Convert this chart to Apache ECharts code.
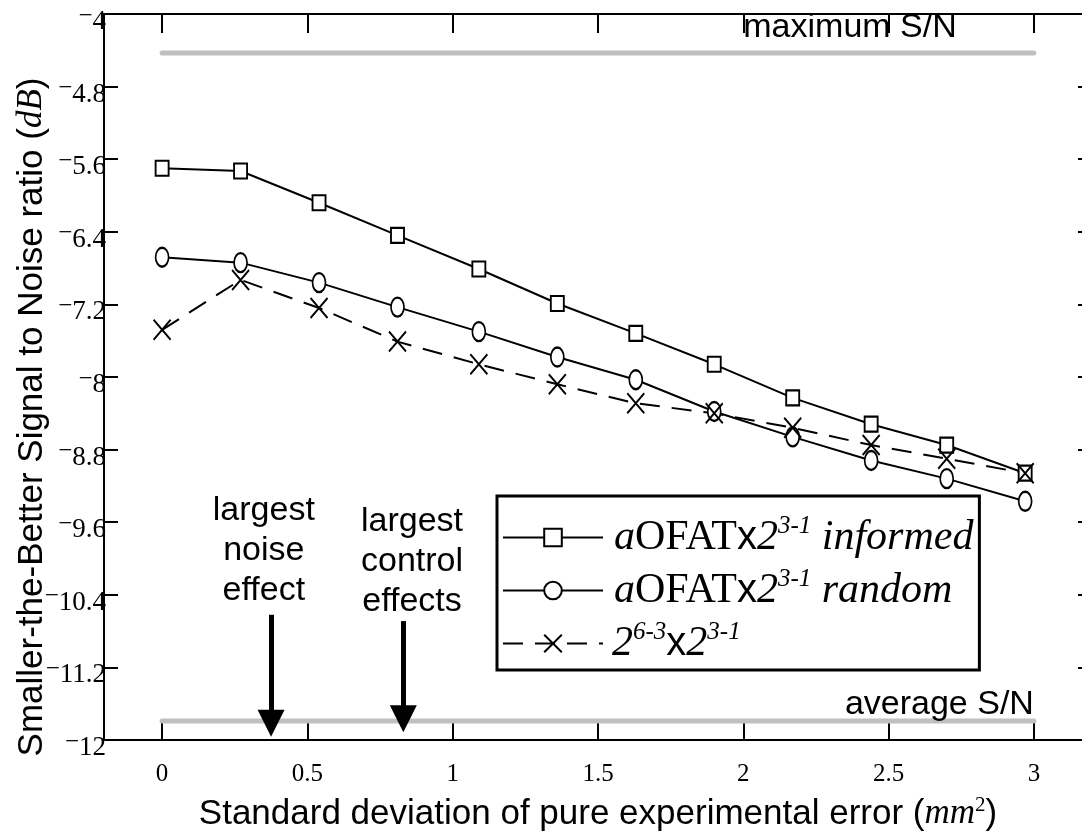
<!DOCTYPE html>
<html>
<head>
<meta charset="utf-8">
<style>
  html, body { margin: 0; padding: 0; background: #fff; }
  #chart { width: 1082px; height: 833px; }
</style>
<script src="https://cdn.jsdelivr.net/npm/echarts@6.0.0/dist/echarts.min.js"></script>
</head>
<body>
<div id="chart"></div>
<script>
// Standard deviation of the pure experimental error (mm^2)
const errorSD = [0, 0.27, 0.54, 0.81, 1.09, 1.36, 1.63, 1.90, 2.17, 2.44, 2.70, 2.97];
// Smaller-the-better S/N ratio (dB) reached by each strategy
const informedSN   = [-5.70, -5.73, -6.08, -6.44, -6.81, -7.19, -7.52, -7.86, -8.23, -8.52, -8.75, -9.06];
const randomSN     = [-6.68, -6.74, -6.96, -7.23, -7.50, -7.78, -8.03, -8.38, -8.66, -8.92, -9.12, -9.37];
const fractionalSN = [-7.48, -6.93, -7.24, -7.61, -7.86, -8.08, -8.29, -8.40, -8.56, -8.75, -8.90, -9.06];
// Reference levels
const maximumSN = -4.43;
const averageSN = -11.79;
// Arrows marking the largest effects: x position, start and end of shaft
const arrowX     = [0.375, 0.83];
const arrowStart = [-10.62, -10.69];
const arrowEnd   = [-11.815, -11.765];
// Axis ticks
const xTicks = [0, 0.5, 1, 1.5, 2, 2.5, 3];
const yMin = -12, yMax = -4, yStep = 0.8;

const SERIF = "'Liberation Serif', 'Times New Roman', serif";
const SANS = "'Liberation Sans', Arial, sans-serif";

const NAME_INFORMED = 'aOFATx2^3-1 informed';
const NAME_RANDOM = 'aOFATx2^3-1 random';
const NAME_FRACTIONAL = '2^6-3x2^3-1';

const legendText = {};
legendText[NAME_INFORMED] = '{a|a}{r|OFAT}{s|x}{i|2}{sup|3-1}{r| }{i|informed}';
legendText[NAME_RANDOM] = '{a|a}{r|OFAT}{s|x}{i|2}{sup|3-1}{r| }{i|random}';
legendText[NAME_FRACTIONAL] = '{b|2}{sup|6-3}{s|x}{i|2}{sup|3-1}';

const pairs = arr => errorSD.map((x, k) => [x, arr[k]]);

const chart = echarts.init(document.getElementById('chart'), null, { renderer: 'canvas' });

const common = {
  type: 'line',
  symbolKeepAspect: false,
  lineStyle: { color: '#000', width: 2 },
  itemStyle: { color: '#fff', borderColor: '#000', borderWidth: 2 },
  emphasis: { disabled: true },
  z: 3
};

const option = {
  animation: false,
  backgroundColor: '#fff',
  grid: { left: 104, top: 14, width: 988, bottom: 93, containLabel: false, outerBoundsMode: 'none' },
  xAxis: [
    {
      type: 'value', position: 'bottom', min: -0.2, max: 3.2,
      axisLine: { onZero: false, lineStyle: { color: '#000', width: 2 } },
      axisTick: { inside: true, length: 17, customValues: xTicks, lineStyle: { color: '#000', width: 2 } },
      axisLabel: {
        customValues: xTicks, margin: 22, color: '#000',
        fontFamily: SERIF, fontSize: 25, formatter: v => String(v)
      },
      splitLine: { show: false },
      name: '{t|Standard deviation of pure experimental error (}{m|mm}{p|2}{t|)}',
      nameLocation: 'middle', nameGap: 54, nameMoveOverlap: false,
      nameTextStyle: {
        rich: {
          t: { fontFamily: SANS, fontSize: 35, color: '#000', lineHeight: 40 },
          m: { fontFamily: SERIF, fontStyle: 'italic', fontSize: 35, color: '#000', lineHeight: 40 },
          p: { fontFamily: SERIF, fontSize: 21, color: '#000', lineHeight: 21, padding: [0, 0, 18, 0] }
        }
      }
    },
    {
      type: 'value', position: 'top', min: -0.2, max: 3.2,
      axisLine: { onZero: false, lineStyle: { color: '#000', width: 2 } },
      axisTick: { inside: true, length: 19, customValues: xTicks, lineStyle: { color: '#000', width: 2 } },
      axisLabel: { show: false },
      splitLine: { show: false }
    }
  ],
  yAxis: [
    {
      type: 'value', position: 'left', min: yMin, max: yMax, interval: yStep,
      axisLine: { onZero: false, lineStyle: { color: '#000', width: 2 } },
      axisTick: { inside: true, length: 14, lineStyle: { color: '#000', width: 2 } },
      axisLabel: {
        margin: -2, padding: [16, 0, 0, 0],
        formatter: v => {
          const r = Math.round(v * 10) / 10;
          return r < 0 ? '{m|\u2212}{n|' + Math.abs(r) + '}' : '{n|' + r + '}';
        },
        rich: {
          m: { fontFamily: SERIF, fontSize: 25, color: '#000', lineHeight: 25, padding: [0, 0, 12, 0] },
          n: { fontFamily: SERIF, fontSize: 27, color: '#000', lineHeight: 27 }
        }
      },
      splitLine: { show: false },
      name: '{t|Smaller-the-Better Signal to Noise ratio (}{u|dB}{t|)}',
      nameLocation: 'middle', nameRotate: 90, nameGap: 52, nameMoveOverlap: false,
      nameTextStyle: {
        padding: [0, 80, 0, 0],
        rich: {
          t: { fontFamily: SANS, fontSize: 35, color: '#000', lineHeight: 40 },
          u: { fontFamily: SERIF, fontStyle: 'italic', fontSize: 35, color: '#000', lineHeight: 40 }
        }
      }
    },
    {
      type: 'value', position: 'right', min: yMin, max: yMax, interval: yStep,
      axisLine: { show: false, onZero: false },
      axisTick: { inside: true, length: 14, lineStyle: { color: '#000', width: 2 } },
      axisLabel: { show: false },
      splitLine: { show: false }
    }
  ],
  legend: {
    orient: 'vertical', left: 497, top: 496,
    data: [NAME_INFORMED, NAME_RANDOM, NAME_FRACTIONAL],
    selectedMode: false,
    itemWidth: 100, itemHeight: 22, itemGap: 6,
    padding: [18, 6, 3, 5],
    borderColor: '#000', borderWidth: 3, borderRadius: 0,
    backgroundColor: '#fff',
    formatter: name => legendText[name],
    textStyle: {
      rich: {
        a: { fontFamily: SERIF, fontStyle: 'italic', fontSize: 42, color: '#000', lineHeight: 48, padding: [0, 0, 0, 6] },
        b: { fontFamily: SERIF, fontStyle: 'italic', fontSize: 42, color: '#000', lineHeight: 48, padding: [0, 0, 0, 4] },
        r: { fontFamily: SERIF, fontSize: 42, color: '#000', lineHeight: 48 },
        s: { fontFamily: SANS, fontSize: 40, color: '#000', lineHeight: 48 },
        i: { fontFamily: SERIF, fontStyle: 'italic', fontSize: 42, color: '#000', lineHeight: 48 },
        sup: { fontFamily: SERIF, fontStyle: 'italic', fontSize: 25, color: '#000', lineHeight: 25, padding: [0, 0, 22, 0] }
      }
    }
  },
  series: [
    {
      name: 'maximum', type: 'line', data: [[0, maximumSN], [3, maximumSN]],
      symbol: 'none', lineStyle: { color: '#c0c0c0', width: 5, cap: 'round' },
      emphasis: { disabled: true }, silent: true, z: 1
    },
    {
      name: 'average', type: 'line', data: [[0, averageSN], [3, averageSN]],
      symbol: 'none', lineStyle: { color: '#c0c0c0', width: 5, cap: 'round' },
      emphasis: { disabled: true }, silent: true, z: 1,
      markLine: {
        silent: true, animation: false,
        symbol: ['none', 'triangle'], symbolSize: [27, 27],
        label: { show: false },
        lineStyle: { color: '#000', width: 5, type: 'solid' },
        emphasis: { disabled: true },
        data: arrowX.map((x, k) => [{ coord: [x, arrowStart[k]] }, { coord: [x, arrowEnd[k]] }])
      }
    },
    Object.assign({}, common, {
      name: NAME_INFORMED, data: pairs(informedSN),
      symbol: 'rect', symbolSize: [13, 15]
    }),
    Object.assign({}, common, {
      name: NAME_RANDOM, data: pairs(randomSN),
      symbol: 'circle', symbolSize: [13, 19]
    }),
    Object.assign({}, common, {
      name: NAME_FRACTIONAL, data: pairs(fractionalSN),
      symbol: 'path://M0,0L10,10M10,0L0,10', symbolSize: [17, 20],
      lineStyle: { color: '#000', width: 2, type: [20, 12] }
    })
  ]
};

chart.setOption(option);

// Text annotations anchored to data coordinates
const px = (x, y) => chart.convertToPixel({ xAxisIndex: 0, yAxisIndex: 0 }, [x, y]);
const annoFont = { fontFamily: SANS, fontSize: 34, fill: '#000' };
const pMax = px(2.0, maximumSN);
const pAvg = px(3.0, averageSN);
const pNoise = px(0.35, -9.91);
const pControl = px(0.86, -10.03);

chart.setOption({
  graphic: [
    { type: 'text', x: pMax[0], y: pMax[1] - 25, z: 10, silent: true,
      style: Object.assign({ text: 'maximum S/N', align: 'left', verticalAlign: 'middle' }, annoFont) },
    { type: 'text', x: pAvg[0], y: pAvg[1] - 16, z: 10, silent: true,
      style: Object.assign({ text: 'average S/N', align: 'right', verticalAlign: 'middle' }, annoFont) },
    { type: 'text', x: pNoise[0], y: pNoise[1], z: 10, silent: true,
      style: Object.assign({ text: 'largest\nnoise\neffect', align: 'center', verticalAlign: 'middle', lineHeight: 40 }, annoFont) },
    { type: 'text', x: pControl[0], y: pControl[1], z: 10, silent: true,
      style: Object.assign({ text: 'largest\ncontrol\neffects', align: 'center', verticalAlign: 'middle', lineHeight: 40 }, annoFont) }
  ]
});
</script>
</body>
</html>
